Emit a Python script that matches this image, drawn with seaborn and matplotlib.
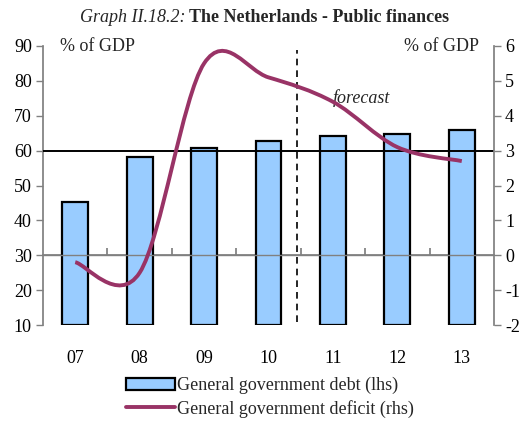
import numpy as np
import matplotlib
matplotlib.use("Agg")
import matplotlib.pyplot as plt
from matplotlib.path import Path
from matplotlib.patches import PathPatch, Patch
from matplotlib.lines import Line2D
import seaborn as sns

# Data
years = ["07", "08", "09", "10", "11", "12", "13"]
debt = [45.3, 58.2, 60.8, 62.9, 64.2, 64.9, 66.0]        # lhs, % of GDP
deficit = [-0.2, -0.5, 5.5, 5.1, 4.4, 3.1, 2.7]          # rhs, % of GDP

sns.set_theme(style="white")
plt.rcParams["font.family"] = ["Liberation Serif", "DejaVu Serif"]
plt.rcParams["axes.unicode_minus"] = False

fig = plt.figure(figsize=(5.26, 4.21), dpi=100)
ax = fig.add_axes([43 / 526, 1 - 325 / 421, (494 - 43) / 526, (325 - 46) / 421])

sns.barplot(x=years, y=np.array(debt) - 10, bottom=10, ax=ax, color="#99CCFF",
            saturation=1, width=0.4, edgecolor="black", linewidth=1.6)
ax.set_xlim(-0.5, 6.5)
ax.set_ylim(10, 90)
ax.set_yticks(range(10, 91, 10))
ax.axhline(60, color="black", lw=1.4, zorder=3)
ax.axhline(30, color="#808080", lw=1.0, zorder=1)
ax.axvline(3.45, ymin=0.01, ymax=0.985, color="black", lw=1.2,
           ls=(0, (4, 3)), zorder=3)

for s in ["top", "bottom", "right"]:
    ax.spines[s].set_visible(False)
ax.spines["left"].set_color("#808080")
ax.tick_params(axis="y", direction="out", length=5, width=1, color="#808080",
               labelsize=13, pad=3, left=True, labelcolor="black")
ax.tick_params(axis="x", length=0, labelsize=13, pad=18, labelcolor="black")
ax.set_xlabel("")
ax.set_ylabel("")

# axis line at zero deficit with small tick marks between categories
sec = ax.secondary_xaxis(0.25)
sec.set_xticks(np.arange(0.5, 6.0, 1.0))
sec.tick_params(direction="in", length=5, color="#808080", labelbottom=False)
sec.spines["bottom"].set_color("#808080")

ax2 = ax.twinx()
ax2.set_ylim(-2, 6)
ax2.set_yticks(range(-2, 7))
for s in ["top", "bottom", "left"]:
    ax2.spines[s].set_visible(False)
ax2.spines["right"].set_color("#808080")
ax2.tick_params(axis="y", direction="out", length=5, width=1, color="#808080",
                labelsize=13, pad=3, right=True, labelcolor="black")
ax2.grid(False)
ax.grid(False)

# smoothed line (Catmull-Rom as Bezier curves, like a smoothed Excel line)
xs = np.arange(len(deficit), dtype=float)
ys = np.array(deficit, dtype=float)
px = np.concatenate([[xs[0]], xs, [xs[-1]]])
py = np.concatenate([[ys[0]], ys, [ys[-1]]])
verts = [(xs[0], ys[0])]
codes = [Path.MOVETO]
for i in range(1, len(px) - 2):
    c1 = (px[i] + (px[i + 1] - px[i - 1]) / 6, py[i] + (py[i + 1] - py[i - 1]) / 6)
    c2 = (px[i + 1] - (px[i + 2] - px[i]) / 6, py[i + 1] - (py[i + 2] - py[i]) / 6)
    verts += [c1, c2, (px[i + 1], py[i + 1])]
    codes += [Path.CURVE4] * 3
ax2.add_patch(PathPatch(Path(verts, codes), fill=False, edgecolor="#993366",
                        lw=2.8, capstyle="butt", zorder=4))

ax.text(-0.24, 89.9, "% of GDP", fontsize=13, ha="left", va="center")
ax2.text(6.27, 5.99, "% of GDP", fontsize=13, ha="right", va="center")
ax2.text(4.45, 4.52, "forecast", fontsize=13, style="italic",
         ha="center", va="center")

fig.text(185 / 526, 1 - 18 / 421, "Graph II.18.2:", fontsize=13,
         style="italic", ha="right", va="center")
fig.text(189 / 526, 1 - 18 / 421, "The Netherlands - Public finances",
         fontsize=13, weight="bold", ha="left", va="center")

handles = [Patch(facecolor="#99CCFF", edgecolor="black", linewidth=1.6),
           Line2D([], [], color="#993366", lw=2.8)]
labels = ["General government debt (lhs)", "General government deficit (rhs)"]
fig.legend(handles, labels, loc="upper center", bbox_to_anchor=(270 / 526, 1 - 368 / 421),
           frameon=False, fontsize=13, handlelength=2.7, handleheight=0.7,
           handletextpad=0.15, labelspacing=0.3, borderpad=0)

fig.savefig("out.png", dpi=100)
